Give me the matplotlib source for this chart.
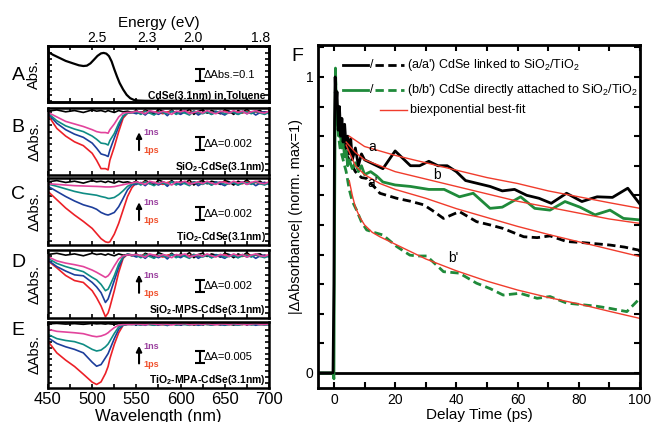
import matplotlib
matplotlib.use("Agg")
import matplotlib.pyplot as plt
from matplotlib.ticker import MultipleLocator, FixedLocator, NullFormatter

plt.rcParams["font.family"] = ["Liberation Sans", "DejaVu Sans"]

# ---------------- panel A: steady-state absorption ----------------
wl_abs = [450, 456, 463, 470, 478, 485, 490, 494, 498, 502, 506, 510, 513, 516,
          519, 522, 525, 528, 531, 535, 539, 543, 547, 552, 560, 700]
abs_vals = [0.41, 0.385, 0.36, 0.335, 0.315, 0.298, 0.292, 0.295, 0.314, 0.345,
            0.377, 0.398, 0.402, 0.396, 0.375, 0.33, 0.265, 0.205, 0.15, 0.095,
            0.05, 0.022, 0.008, 0.002, 0.0, 0.0]
energy_pos = [505, 562, 614, 690]
energy_labels = ["2.5", "2.3", "2.0", "1.8"]

# ---------------- panels B-E: transient spectra (mOD) ----------------
wl_main = [450, 460, 470, 480, 490, 500, 505, 510, 515, 518, 520, 525, 530, 535, 540, 545]
wl_tail = list(range(550, 701, 5))

b_red = [-0.4, -2.5, -3.7, -4.6, -5.2, -6.4, -7.5, -8.8, -8.8, -9.0, -7.5, -5.4, -3.0, -0.9, -0.1, 0.0]
b_blue = [-0.2, -1.7, -2.7, -3.4, -3.9, -4.8, -5.6, -6.5, -6.7, -6.9, -5.9, -4.0, -2.2, -0.6, -0.1, 0.0]
b_teal = [-0.1, -1.3, -2.1, -2.6, -3.0, -3.7, -4.2, -4.8, -4.9, -5.1, -4.4, -3.3, -1.7, -0.5, -0.1, 0.0]
b_pink = [0.0, -0.7, -1.4, -1.8, -2.2, -2.7, -3.0, -3.15, -3.15, -3.25, -2.7, -1.8, -0.7, -0.1, 0.0, 0.0]

c_red = [-1.3, -2.6, -3.9, -5.0, -6.0, -7.1, -7.9, -8.7, -9.2, -9.3, -9.2, -8.0, -6.3, -4.2, -2.1, -0.7]
c_blue = [-0.5, -1.3, -2.1, -2.8, -3.4, -3.8, -4.1, -4.6, -4.9, -5.0, -4.9, -4.6, -3.7, -2.4, -1.05, -0.26]
c_teal = [-0.15, -0.5, -0.9, -1.3, -1.6, -1.8, -1.9, -2.1, -2.25, -2.4, -2.4, -2.25, -1.8, -1.2, -0.5, -0.15]
c_pink = [-0.1, -0.2, -0.3, -0.4, -0.45, -0.5, -0.52, -0.55, -0.6, -0.6, -0.6, -0.55, -0.4, -0.25, -0.1, 0.0]

d_red = [-0.8, -1.9, -3.1, -3.9, -4.2, -5.5, -6.6, -7.9, -9.6, -9.0, -8.1, -5.5, -2.6, -0.4, 0.26, 0.15]
d_blue = [-0.7, -1.7, -2.4, -3.0, -3.15, -4.2, -4.9, -5.8, -7.35, -6.8, -6.0, -3.9, -1.8, -0.26, 0.26, 0.1]
d_teal = [-0.4, -1.2, -1.7, -2.1, -2.5, -3.4, -3.8, -4.5, -5.5, -5.25, -4.7, -3.15, -1.3, -0.15, 0.26, 0.1]
d_pink = [-0.15, -0.8, -1.15, -1.4, -1.7, -2.25, -2.6, -3.0, -3.4, -3.15, -2.8, -1.6, -0.5, 0.0, 0.15, 0.1]

e_red = [-7.2, -12.2, -15.3, -18.0, -21.3, -24.7, -25.7, -24.6, -21.0, -18.0, -14.7, -8.6, -3.6, -0.4, 0.0, 0.0]
e_blue = [-5.7, -8.2, -9.6, -10.7, -12.2, -16.2, -17.9, -17.2, -14.3, -12.5, -10.7, -6.1, -2.1, -0.4, 0.0, 0.0]
e_teal = [-4.3, -6.1, -6.9, -7.4, -8.6, -10.7, -11.4, -11.0, -9.6, -8.4, -7.15, -3.9, -1.1, -0.3, 0.0, 0.0]
e_pink = [-2.1, -3.0, -3.3, -3.6, -4.0, -5.0, -5.3, -5.0, -4.3, -3.6, -2.9, -1.4, -0.4, -0.1, 0.0, 0.0]

black_main = [0.2, 0.4, 0.1, 0.3, 0.0, 0.4, 0.2, 0.3, 0.1, 0.3, 0.2, 0.0, 0.3, 0.1, 0.2, 0.0]

tail_black = [0.3, -0.2, 0.4, 0.1, -0.3, 0.5, 0.2, -0.1, 0.4, -0.2, 0.3, 0.0, 0.5, -0.3, 0.2, 0.4,
              -0.1, 0.3, 0.1, -0.2, 0.4, 0.2, -0.3, 0.3, 0.0, 0.5, -0.1, 0.2, 0.3, -0.2, 0.1]
tail_red = [0.1, 0.0, 0.2, -0.1, 0.1, 0.0, -0.2, 0.1, 0.2, 0.0, -0.1, 0.1, 0.0, 0.2, -0.1, 0.0,
            0.1, -0.2, 0.1, 0.0, 0.2, -0.1, 0.1, 0.0, -0.1, 0.2, 0.0, 0.1, -0.1, 0.1, 0.0]
tail_blue = [-0.2, 0.1, -0.4, 0.2, 0.0, -0.3, 0.1, -0.5, 0.2, 0.0, -0.3, 0.1, -0.2, 0.2, -0.4, 0.0,
             0.1, -0.3, 0.2, -0.1, -0.4, 0.1, 0.0, -0.3, 0.2, -0.2, 0.1, -0.4, 0.0, 0.1, -0.2]
tail_teal = [0.1, -0.3, 0.2, -0.1, -0.4, 0.1, 0.0, -0.2, 0.2, -0.3, 0.1, -0.1, -0.4, 0.2, 0.0, -0.2,
             0.1, -0.3, 0.0, 0.2, -0.2, -0.1, 0.1, -0.3, 0.0, 0.1, -0.2, 0.2, -0.1, -0.3, 0.0]
tail_pink = [0.2, 0.0, -0.2, 0.3, 0.1, -0.1, 0.2, 0.0, -0.3, 0.2, 0.1, 0.3, -0.2, 0.0, 0.2, -0.1,
             0.3, 0.0, -0.2, 0.2, 0.1, -0.1, 0.3, 0.0, 0.2, -0.2, 0.1, 0.3, 0.0, -0.1, 0.2]

samples = [r"SiO$_\mathregular{2}$-CdSe(3.1nm)", r"TiO$_\mathregular{2}$-CdSe(3.1nm)",
           r"SiO$_\mathregular{2}$-MPS-CdSe(3.1nm)", r"TiO$_\mathregular{2}$-MPA-CdSe(3.1nm)"]
scale_labels = ["ΔA=0.002", "ΔA=0.002", "ΔA=0.002", "ΔA=0.005"]
scale_sizes = [2.0, 2.0, 2.0, 5.0]
panel_ylims = [(-9.8, 0.7), (-9.7, 0.8), (-9.8, 0.9), (-27.2, 1.0)]

# ---------------- panel F: kinetics ----------------
t_a = [-5, -0.3, 0, 0.2, 0.4, 0.7, 1, 1.4, 1.8, 2.2, 2.6, 3, 3.5, 4, 4.5, 5, 5.5, 6, 7, 8, 9, 10,
       12, 14, 16, 18, 20, 22, 25, 28, 31, 34, 37, 40, 43, 47, 51, 55, 59, 63, 67, 71, 76, 81,
       86, 91, 96, 100]
sig_a = [0, 0, 0.3, 0.85, 1.0, 0.9, 0.95, 0.82, 0.9, 0.8, 0.86, 0.78, 0.84, 0.76, 0.8, 0.74, 0.79,
         0.72, 0.76, 0.7, 0.74, 0.72, 0.71, 0.7, 0.69, 0.72, 0.75, 0.73, 0.70, 0.70, 0.715, 0.70,
         0.70, 0.68, 0.65, 0.64, 0.63, 0.615, 0.62, 0.6, 0.59, 0.573, 0.607, 0.579, 0.595, 0.593,
         0.624, 0.57]

t_b = [-5, -0.3, 0, 0.2, 0.5, 0.8, 1.2, 1.6, 2, 2.5, 3, 3.5, 4, 4.5, 5, 6, 7, 8, 9, 10, 12, 14,
       16, 18, 20, 25, 31, 36, 41, 45.5, 51, 55, 61, 65.6, 70.6, 75.5, 80.4, 85.3, 90.2, 94.6, 100]
sig_b = [0, 0, -0.02, 0.5, 1.03, 0.9, 0.85, 0.8, 0.82, 0.76, 0.78, 0.73, 0.75, 0.7, 0.72, 0.69,
         0.71, 0.68, 0.7, 0.67, 0.68, 0.665, 0.645, 0.64, 0.635, 0.63, 0.62, 0.62, 0.595, 0.607,
         0.556, 0.56, 0.595, 0.556, 0.55, 0.579, 0.56, 0.534, 0.55, 0.522, 0.517]

t_a2 = [0.4, 1, 2, 3, 4, 5, 6, 7, 8, 9, 10.7, 12, 14, 15, 20.5, 25, 29.3, 32, 35.8, 41, 46.6, 51,
        55.3, 62, 66.4, 70.6, 76, 81.5, 86, 90.2, 95, 99.5, 100]
sig_a2 = [0.95, 0.9, 0.82, 0.78, 0.74, 0.72, 0.70, 0.68, 0.67, 0.66, 0.657, 0.64, 0.62, 0.607,
          0.59, 0.58, 0.568, 0.55, 0.522, 0.545, 0.511, 0.5, 0.488, 0.46, 0.457, 0.463, 0.444,
          0.44, 0.436, 0.432, 0.425, 0.415, 0.41]

t_b2 = [0.5, 1, 1.5, 2, 3, 4, 5, 6, 7.4, 9, 10.7, 13, 16, 20.5, 24.8, 27, 30.3, 35.8, 41, 46.6,
        51, 55.3, 60.8, 66.4, 70.6, 76, 81.5, 86, 90.2, 95.7, 99.5]
sig_b2 = [1.0, 0.88, 0.8, 0.76, 0.72, 0.68, 0.62, 0.58, 0.55, 0.51, 0.483, 0.475, 0.466, 0.427,
          0.398, 0.395, 0.395, 0.342, 0.337, 0.303, 0.285, 0.263, 0.269, 0.252, 0.258, 0.236,
          0.23, 0.225, 0.218, 0.207, 0.247]

fit_a_t = [5, 10, 20, 30, 40, 50, 60, 70, 80, 90, 100]
fit_a = [0.80, 0.765, 0.735, 0.71, 0.685, 0.66, 0.64, 0.615, 0.595, 0.575, 0.556]
fit_b_t = [4, 7, 10, 15, 20, 30, 40, 50, 60, 70, 80, 90, 100]
fit_b = [0.78, 0.745, 0.72, 0.70, 0.68, 0.655, 0.63, 0.605, 0.58, 0.56, 0.54, 0.52, 0.505]
fit_a2_t = [4, 7, 10, 15, 20, 30, 40, 50, 60, 70, 80, 90, 100]
fit_a2 = [0.77, 0.70, 0.67, 0.64, 0.62, 0.59, 0.555, 0.525, 0.495, 0.468, 0.443, 0.418, 0.393]
fit_b2_t = [5, 6, 7, 8.5, 10, 12.5, 15, 20, 25, 30, 40, 50, 60, 70, 80, 90, 100]
fit_b2 = [0.65, 0.60, 0.56, 0.525, 0.50, 0.475, 0.46, 0.435, 0.41, 0.385, 0.345, 0.31, 0.28,
          0.255, 0.233, 0.208, 0.184]

RED = "#ec2027"
BLUE = "#1d3e9b"
TEAL = "#0f8c84"
PINK = "#e2449c"
GREEN = "#1f8a3a"
FIT = "#f03c2c"


def style_left(ax, show_x=False):
    ax.set_xlim(450, 700)
    for s in ax.spines.values():
        s.set_linewidth(1.8)
    ax.xaxis.set_major_locator(MultipleLocator(50))
    ax.xaxis.set_minor_locator(MultipleLocator(25))
    ax.tick_params(which="both", direction="in", top=True, right=True, length=3, width=1.2,
                   labelsize=12)
    ax.yaxis.set_major_formatter(NullFormatter())
    if not show_x:
        ax.xaxis.set_major_formatter(NullFormatter())
    ax.yaxis.set_label_coords(-0.03, 0.5)


def scale_bar(ax, frac_y, size, label, x=622):
    lo, hi = ax.get_ylim()
    yc = lo + frac_y * (hi - lo)
    ax.errorbar([x], [yc], yerr=size / 2, color="k", capsize=3.5, elinewidth=1.5,
                capthick=1.5, fmt="none")
    ax.text(x + 4, yc, label, fontsize=8, va="center", ha="left")


fig = plt.figure(figsize=(6.51, 4.22), dpi=100)

# Panel A
axA = fig.add_axes([0.0737, 0.7583, 0.3395, 0.1327])
axA.plot(wl_abs, abs_vals, color="k", lw=1.6)
axA.set_ylim(-0.01, 0.46)
style_left(axA)
axA.tick_params(top=False)
axA.yaxis.set_minor_locator(MultipleLocator(0.05))
axA.set_ylabel("Abs.", fontsize=10.5)
scale_bar(axA, 0.48, 0.1, "ΔAbs.=0.1")
axA.text(0.985, 0.1, "CdSe(3.1nm) in Toluene", transform=axA.transAxes, ha="right",
         va="center", fontsize=7.5, fontweight="bold")
topA = axA.twiny()
topA.set_xlim(450, 700)
topA.xaxis.set_major_locator(FixedLocator(energy_pos))
topA.set_xticklabels(energy_labels)
topA.xaxis.set_minor_locator(MultipleLocator(25))
topA.tick_params(which="major", length=0, labelsize=10, pad=0.5)
topA.tick_params(which="minor", direction="in", length=3, width=1.2)
topA.set_xlabel("Energy (eV)", fontsize=11, labelpad=3)
for s in topA.spines.values():
    s.set_linewidth(1.8)

# Panels B-E
rects = [[0.0737, 0.5853, 0.3395, 0.1588], [0.0737, 0.4194, 0.3395, 0.1588],
         [0.0737, 0.2464, 0.3395, 0.1610], [0.0737, 0.0806, 0.3395, 0.1564]]
traces = [(b_red, b_blue, b_teal, b_pink), (c_red, c_blue, c_teal, c_pink),
          (d_red, d_blue, d_teal, d_pink), (e_red, e_blue, e_teal, e_pink)]
wl = wl_main + wl_tail
for i, (rect, (r, b, t, p)) in enumerate(zip(rects, traces)):
    ax = fig.add_axes(rect)
    ax.plot(wl, black_main + tail_black, color="k", lw=1.2)
    ax.plot(wl, r + tail_red, color=RED, lw=1.2)
    ax.plot(wl, b + tail_blue, color=BLUE, lw=1.2)
    ax.plot(wl, t + tail_teal, color=TEAL, lw=1.2)
    ax.plot(wl, p + tail_pink, color=PINK, lw=1.2)
    ax.set_ylim(*panel_ylims[i])
    style_left(ax, show_x=(i == 3))
    ax.yaxis.set_major_locator(MultipleLocator(scale_sizes[i]))
    ax.yaxis.set_minor_locator(MultipleLocator(scale_sizes[i] / 2))
    ax.set_ylabel("ΔAbs.", fontsize=10.5)
    scale_bar(ax, 0.47, scale_sizes[i], scale_labels[i])
    ax.annotate("", xy=(553, 0.68), xytext=(553, 0.33), xycoords=("data", "axes fraction"),
                arrowprops=dict(arrowstyle="-|>", color="k", lw=1.5, mutation_scale=8))
    ax.text(558, 0.63, "1ns", transform=ax.get_xaxis_transform(), color="#9a3f9e",
            fontsize=6.5, fontweight="bold", va="center")
    ax.text(558, 0.36, "1ps", transform=ax.get_xaxis_transform(), color="#f0502c",
            fontsize=6.5, fontweight="bold", va="center")
    ax.text(0.985, 0.12, samples[i], transform=ax.transAxes, ha="right", va="center",
            fontsize=7.5, fontweight="bold")
    if i == 3:
        ax.set_xlabel("Wavelength (nm)", fontsize=12, labelpad=1)
        ax.tick_params(axis="x", pad=3)

for letter, y in zip("ABCDE", [0.822, 0.697, 0.538, 0.379, 0.218]):
    fig.text(0.028, y, letter, fontsize=14, ha="center", va="center")
fig.text(0.456, 0.865, "F", fontsize=14, ha="center", va="center")

# Panel F
axF = fig.add_axes([0.4885, 0.0806, 0.4946, 0.8128])
axF.axhline(0, color="k", lw=2)
axF.plot(t_a2, sig_a2, color="k", lw=2, ls=(0, (3, 1.6)))
axF.plot(t_b2, sig_b2, color=GREEN, lw=2, ls=(0, (3, 1.6)))
axF.plot(t_b, sig_b, color=GREEN, lw=2)
axF.plot(t_a, sig_a, color="k", lw=2)
for ft, fv in [(fit_a_t, fit_a), (fit_b_t, fit_b), (fit_a2_t, fit_a2), (fit_b2_t, fit_b2)]:
    axF.plot(ft, fv, color=FIT, lw=1)
axF.set_xlim(-5.2, 100)
axF.set_ylim(-0.051, 1.108)
axF.xaxis.set_major_locator(MultipleLocator(20))
axF.xaxis.set_minor_locator(MultipleLocator(10))
axF.yaxis.set_major_locator(FixedLocator([0, 1]))
axF.yaxis.set_minor_locator(MultipleLocator(0.1))
axF.tick_params(which="both", direction="in", top=True, right=True, length=4, width=1.5,
                labelsize=10)
for s in axF.spines.values():
    s.set_linewidth(2)
axF.set_xlabel("Delay Time (ps)", fontsize=11, labelpad=1)
axF.set_ylabel("|ΔAbsorbance| (norm. max=1)", fontsize=10.5, labelpad=2)

for txt, tx, ty in [("a", 12.4, 0.764), ("b", 33.7, 0.669), ("a'", 12.7, 0.64), ("b'", 38.9, 0.389)]:
    axF.text(tx, ty, txt, fontsize=10, ha="center", va="center")

# hand-drawn legend
for y, col in [(1.04, "k"), (0.956, GREEN)]:
    axF.plot([3, 11], [y, y], color=col, lw=2)
    axF.plot([13.4, 23], [y, y], color=col, lw=2, ls=(0, (3, 1.6)))
    axF.text(12.2, y, "/", fontsize=9, ha="center", va="center")
axF.text(23.9, 1.04, r"(a/a') CdSe linked to SiO$_\mathregular{2}$/TiO$_\mathregular{2}$",
         fontsize=9, va="center")
axF.text(23.9, 0.956, r"(b/b') CdSe directly attached to SiO$_\mathregular{2}$/TiO$_\mathregular{2}$",
         fontsize=9, va="center")
axF.plot([15, 24], [0.889, 0.889], color=FIT, lw=1)
axF.text(25, 0.889, "biexponential best-fit", fontsize=9, va="center")

fig.savefig("out.png", dpi=100)
